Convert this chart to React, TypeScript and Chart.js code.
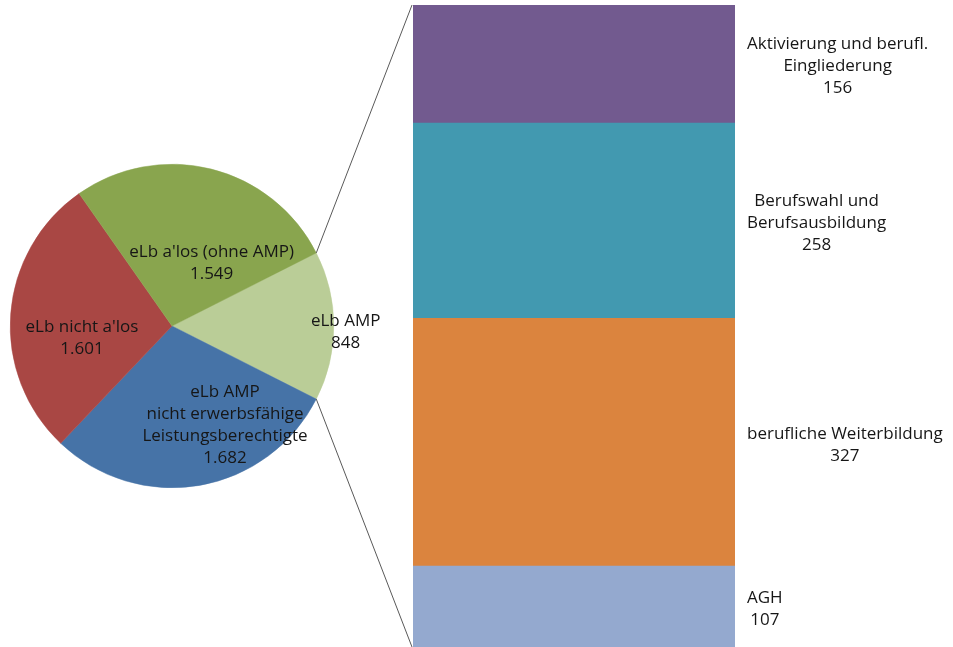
import React, { useEffect, useRef } from 'react';
import { Chart, registerables } from 'chart.js';

Chart.register(...registerables);

// ---- Data ----
const pieLabels = [
  'eLb AMP',
  'eLb AMP\nnicht erwerbsfähige\nLeistungsberechtigte',
  "eLb nicht a'los",
  "eLb a'los (ohne AMP)",
];
const pieValues = [848, 1682, 1601, 1549];
const pieColors = ['#BACD97', '#4673A7', '#A94744', '#89A54E'];

const barLabels = [
  'AGH',
  'berufliche Weiterbildung',
  'Berufswahl und\nBerufsausbildung',
  'Aktivierung und berufl.\nEingliederung',
];
const barValues = [107, 327, 258, 156];
const barColors = ['#94A9CF', '#DB843E', '#4299B0', '#725A8F'];

const FONT = '17px "Open Sans"';
const TEXT_COLOR = '#161616';
const LINE_H = 22;
const TEXT_DY = 2.5;

const fmt = (n: number) => String(n).replace(/\B(?=(\d{3})+(?!\d))/g, '.');

// label placement inside the pie: radial factor and angle shift (deg) from slice bisector
const pieLabelPlacement = [
  { r: 1.074, a: 1.3 },
  { r: 0.68, a: -19 },
  { r: 0.56, a: -10.5 },
  { r: 0.475, a: 17 },
];

function drawBlock(ctx: CanvasRenderingContext2D, lines: string[], cx: number, cy: number) {
  const n = lines.length;
  lines.forEach((ln, i) => {
    ctx.fillText(ln, cx, cy + TEXT_DY + (i - (n - 1) / 2) * LINE_H);
  });
}

export default function App() {
  const barRef = useRef<HTMLCanvasElement>(null);
  const pieRef = useRef<HTMLCanvasElement>(null);

  useEffect(() => {
    const barTotal = barValues.reduce((a, b) => a + b, 0);
    const pieTotal = pieValues.reduce((a, b) => a + b, 0);

    const barLabelPlugin = {
      id: 'barLabels',
      afterDatasetsDraw(chart: any) {
        const ctx = chart.ctx;
        ctx.save();
        ctx.font = FONT;
        ctx.fillStyle = TEXT_COLOR;
        ctx.textAlign = 'center';
        ctx.textBaseline = 'middle';
        chart.data.datasets.forEach((ds: any, i: number) => {
          const el = chart.getDatasetMeta(i).data[0] as any;
          const lines = [...barLabels[i].split('\n'), fmt(barValues[i])];
          const w = Math.max(...lines.map((l) => ctx.measureText(l).width));
          const left = el.x + el.width / 2 + 12;
          drawBlock(ctx, lines, left + w / 2, (el.y + el.base) / 2);
        });
        ctx.restore();
      },
    };

    const barChart = new Chart(barRef.current!, {
      type: 'bar',
      data: {
        labels: ['eLb AMP'],
        datasets: barValues.map((v, i) => ({
          label: barLabels[i],
          data: [v],
          backgroundColor: barColors[i],
          borderWidth: 0,
          categoryPercentage: 1,
          barPercentage: 1,
        })),
      },
      options: {
        responsive: false,
        animation: false,
        layout: { padding: { left: 413, right: 218, top: 5, bottom: 0 } },
        plugins: { legend: { display: false }, tooltip: { enabled: false } },
        scales: {
          x: { display: false, stacked: true },
          y: { display: false, stacked: true, min: 0, max: barTotal },
        },
      },
      plugins: [barLabelPlugin],
    });

    const pieLabelPlugin = {
      id: 'pieLabels',
      afterDatasetsDraw(chart: any) {
        const ctx = chart.ctx;
        const meta = chart.getDatasetMeta(0);
        ctx.save();
        // connector lines to the bar
        const first = meta.data[0] as any;
        const bMeta0 = barChart.getDatasetMeta(0).data[0] as any;
        const bMetaTop = barChart.getDatasetMeta(barValues.length - 1).data[0] as any;
        const barLeft = bMeta0.x - bMeta0.width / 2 - 1;
        ctx.strokeStyle = '#595959';
        ctx.lineWidth = 1;
        ctx.beginPath();
        ctx.moveTo(first.x + first.outerRadius * Math.cos(first.startAngle), first.y + first.outerRadius * Math.sin(first.startAngle));
        ctx.lineTo(barLeft, bMetaTop.y);
        ctx.moveTo(first.x + first.outerRadius * Math.cos(first.endAngle), first.y + first.outerRadius * Math.sin(first.endAngle));
        ctx.lineTo(barLeft, bMeta0.base);
        ctx.stroke();

        ctx.font = FONT;
        ctx.fillStyle = TEXT_COLOR;
        ctx.textAlign = 'center';
        ctx.textBaseline = 'middle';
        meta.data.forEach((arc: any, i: number) => {
          const mid = (arc.startAngle + arc.endAngle) / 2 + (pieLabelPlacement[i].a * Math.PI) / 180;
          const r = arc.outerRadius * pieLabelPlacement[i].r;
          const cx = arc.x + r * Math.cos(mid);
          const cy = arc.y + r * Math.sin(mid);
          const lines = [...pieLabels[i].split('\n'), fmt(pieValues[i])];
          drawBlock(ctx, lines, cx, cy);
        });
        ctx.restore();
      },
    };

    const pieChart = new Chart(pieRef.current!, {
      type: 'pie',
      data: {
        labels: pieLabels,
        datasets: [
          {
            data: pieValues,
            backgroundColor: pieColors,
            borderColor: pieColors,
            borderWidth: 0.5,
          },
        ],
      },
      options: {
        responsive: false,
        animation: false,
        rotation: 90 - (pieValues[0] / pieTotal) * 180,
        layout: { padding: { left: 10, right: 619, top: 164, bottom: 159 } },
        plugins: { legend: { display: false }, tooltip: { enabled: false } },
      },
      plugins: [pieLabelPlugin],
    });

    return () => {
      pieChart.destroy();
      barChart.destroy();
    };
  }, []);

  const cs: React.CSSProperties = { position: 'absolute', left: 0, top: 0, width: 953, height: 647 };
  return (
    <div style={{ position: 'fixed', left: 0, top: 0, width: 953, height: 647, background: '#ffffff', overflow: 'hidden' }}>
      <canvas ref={barRef} width={953} height={647} style={cs} />
      <canvas ref={pieRef} width={953} height={647} style={cs} />
    </div>
  );
}
